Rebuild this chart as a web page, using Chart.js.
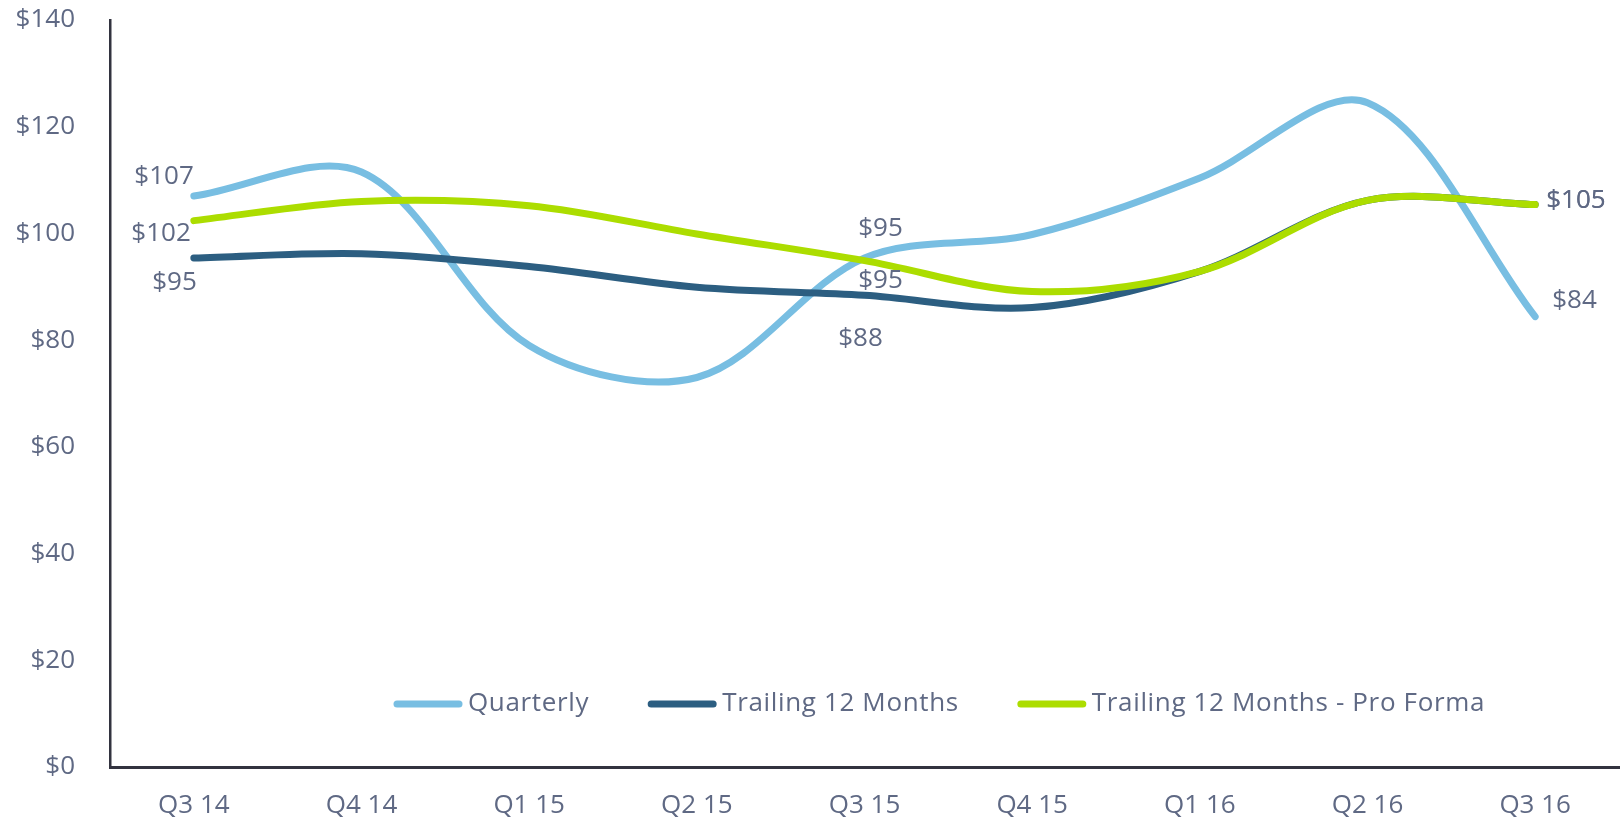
<!DOCTYPE html>
<html>
<head>
<meta charset="utf-8">
<script src="https://cdn.jsdelivr.net/npm/chart.js@4.4.1/dist/chart.umd.min.js"></script>
<style>
  html, body { margin: 0; padding: 0; background: #ffffff; }
  #revenueChart { display: block; }
</style>
</head>
<body>
<canvas id="revenueChart" width="1622" height="822"></canvas>
<script>
// chart data
const quarters = ['Q3 14', 'Q4 14', 'Q1 15', 'Q2 15', 'Q3 15', 'Q4 15', 'Q1 16', 'Q2 16', 'Q3 16'];
const quarterly = [107, 111.5, 79, 73, 95.4, 99.8, 110.4, 124.5, 84.4];
const trailing12 = [95.4, 96.2, 93.8, 89.9, 88.4, 86.1, 92.9, 106.2, 105.4];
const trailing12ProForma = [102.4, 106, 105.2, 99.9, 94.9, 89.1, 92.9, 106.2, 105.4];
const yTicks = [0, 20, 40, 60, 80, 100, 120, 140];

const textColor = '#5f6984';
const axisColor = '#32333f';
const fontFamily = '"Open Sans", "DejaVu Sans", sans-serif';
const fontSize = 26;

// which points carry a value label, and where the label sits relative to the point
const labelSpots = {
    0: { 0: { dx: 0, dy: -19, align: 'right' }, 4: { dx: 16, dy: -29, align: 'center' }, 8: { dx: 17, dy: -16, align: 'left' } },
    1: { 0: { dx: 3, dy: 25, align: 'right' }, 4: { dx: -4, dy: 43, align: 'center' }, 8: { dx: 11, dy: -4, align: 'left' } },
    2: { 0: { dx: -3, dy: 13, align: 'right' }, 4: { dx: 16, dy: 20, align: 'center' }, 8: { dx: 11, dy: -4, align: 'left' } }
};

const pointLabels = {
    id: 'pointLabels',
    afterDatasetsDraw(chart) {
        const ctx = chart.ctx;
        ctx.save();
        ctx.font = fontSize + 'px ' + fontFamily;
        ctx.fillStyle = textColor;
        ctx.textBaseline = 'middle';
        chart.data.datasets.forEach((ds, di) => {
            const spots = labelSpots[di] || {};
            const meta = chart.getDatasetMeta(di);
            Object.keys(spots).forEach(i => {
                const pt = meta.data[i];
                const s = spots[i];
                ctx.textAlign = s.align;
                ctx.fillText('$' + Math.round(ds.data[i]), pt.x + s.dx, pt.y + s.dy);
            });
        });
        ctx.restore();
    }
};

// legend drawn inside the plot, near the bottom
const innerLegend = {
    id: 'innerLegend',
    afterDraw(chart) {
        const ctx = chart.ctx;
        ctx.save();
        ctx.font = fontSize + 'px ' + fontFamily;
        ctx.letterSpacing = '0.65px';
        ctx.textBaseline = 'middle';
        ctx.textAlign = 'left';
        let x = 397;
        const y = 704;
        chart.data.datasets.forEach(ds => {
            ctx.strokeStyle = ds.borderColor;
            ctx.lineWidth = 7;
            ctx.lineCap = 'round';
            ctx.beginPath();
            ctx.moveTo(x, y);
            ctx.lineTo(x + 62, y);
            ctx.stroke();
            ctx.fillStyle = textColor;
            ctx.fillText(ds.label, x + 71, y);
            x += 71 + ctx.measureText(ds.label).width + 62;
        });
        ctx.restore();
    }
};

const ctx = document.getElementById('revenueChart').getContext('2d');

const revenueChart = new Chart(ctx, {
    type: 'line',
    data: {
        labels: quarters,
        datasets: [
          {
            label: 'Quarterly',
            data: quarterly,
            borderColor: '#78bee2',
            borderWidth: 7,
            tension: 0.33,
            order: 2
          },
          {
            label: 'Trailing 12 Months',
            data: trailing12,
            borderColor: '#2c5e81',
            borderWidth: 7,
            tension: 0.33,
            order: 1
          },
          {
            label: 'Trailing 12 Months - Pro Forma',
            data: trailing12ProForma,
            borderColor: '#acdd00',
            borderWidth: 7,
            tension: 0.33,
            order: 0
          }
        ]
    },
    options: {
        responsive: false,
        animation: false,
        events: [],
        layout: {
            padding: { top: 20, left: 0, right: 3, bottom: 3 }
        },
        elements: {
            point: { radius: 0 },
            line: { borderCapStyle: 'round', borderJoinStyle: 'round' }
        },
        scales: {
            x: {
                offset: true,
                grid: { display: false, drawTicks: false },
                border: { display: true, color: axisColor, width: 3 },
                ticks: {
                    color: textColor,
                    padding: 23,
                    font: { family: fontFamily, size: fontSize }
                },
                afterFit: scale => { scale.height = 52; }
            },
            y: {
                min: 0,
                max: 140,
                afterBuildTicks: axis => { axis.ticks = yTicks.map(v => ({ value: v })); },
                grid: { display: false, drawTicks: false },
                border: { display: true, color: axisColor, width: 2.5 },
                ticks: {
                    color: textColor,
                    padding: 35,
                    font: { family: fontFamily, size: fontSize },
                    callback: v => '$' + v
                },
                afterFit: scale => {
                    scale.width = 110;
                    scale.paddingTop = 0;
                    scale.paddingBottom = 0;
                }
            }
        },
        plugins: {
            legend: { display: false },
            tooltip: { enabled: false }
        }
    },
    plugins: [pointLabels, innerLegend]
});
</script>
</body>
</html>
